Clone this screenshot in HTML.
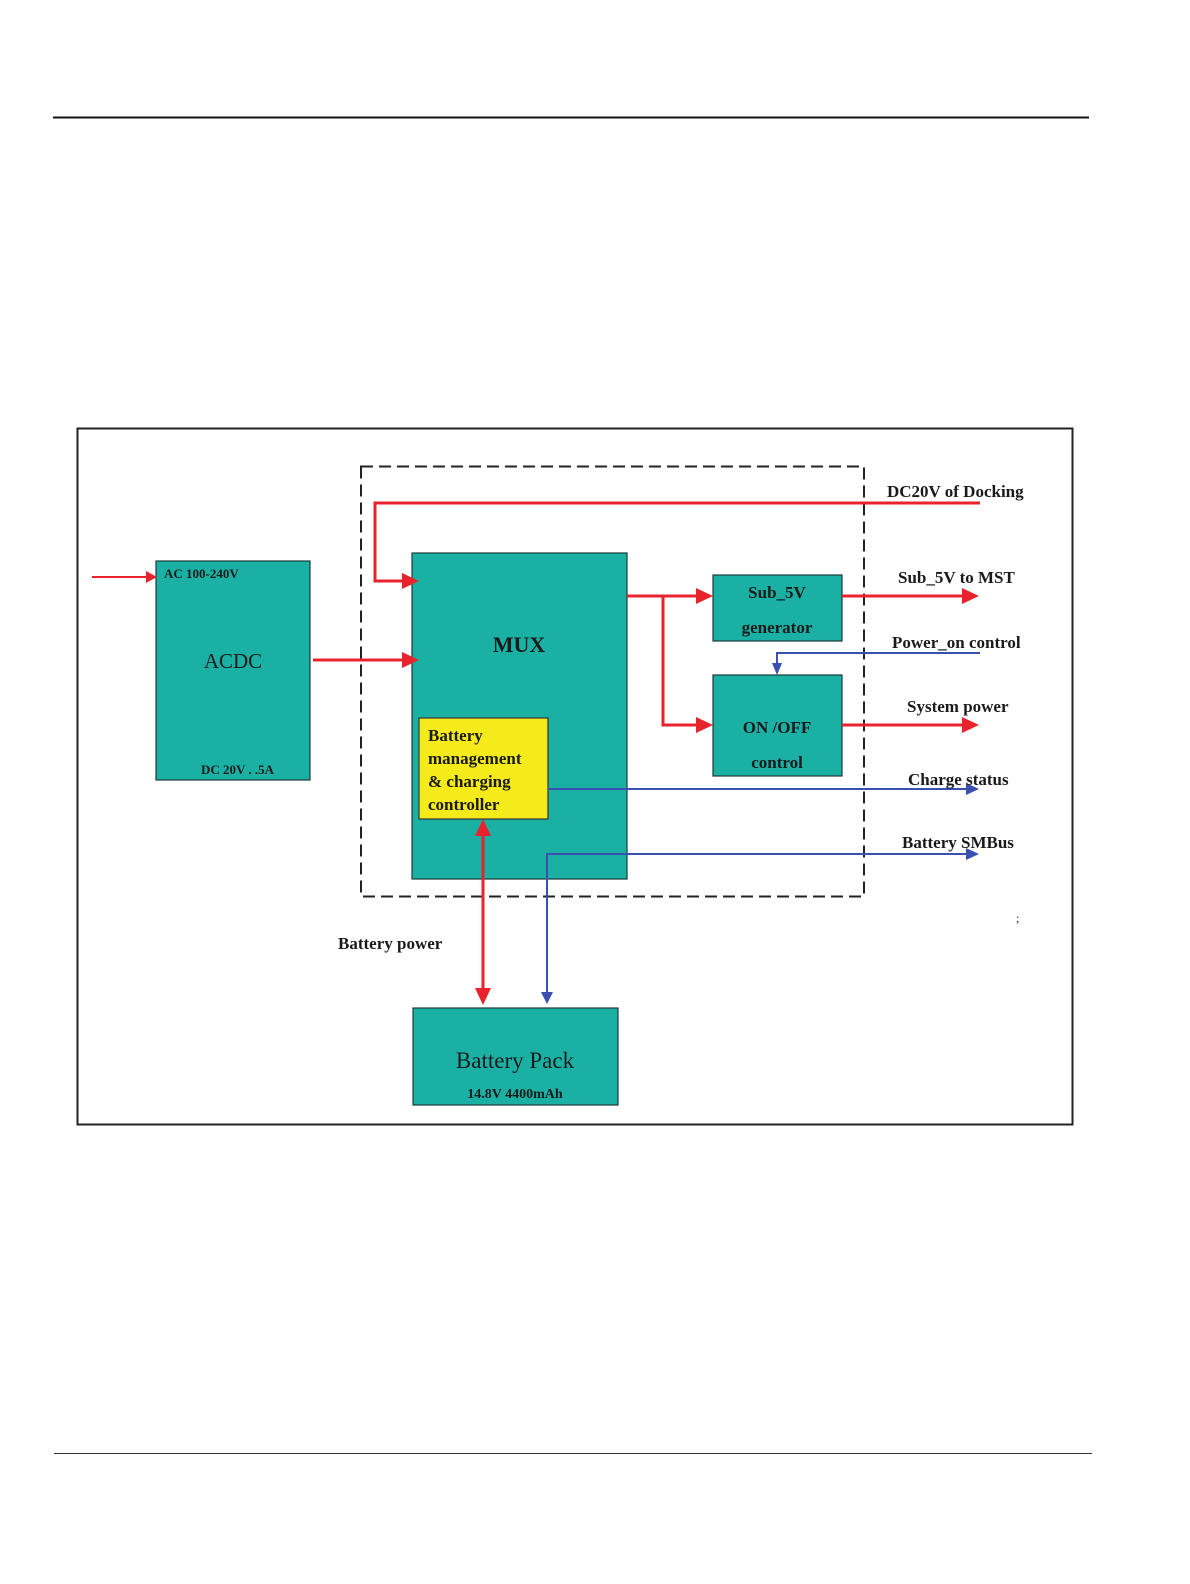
<!DOCTYPE html>
<html><head><meta charset="utf-8">
<style>
html,body{margin:0;padding:0;background:#fff;}
svg{display:block;}
text{font-family:"Liberation Serif",serif;fill:#1a1a1a;}
</style></head>
<body>
<svg width="1190" height="1584" viewBox="0 0 1190 1584" xmlns="http://www.w3.org/2000/svg">
<defs>
<marker id="ar" markerWidth="10" markerHeight="10" refX="9" refY="5" orient="auto" markerUnits="userSpaceOnUse" viewBox="0 0 10 10">
</marker>
</defs>
<line x1="53" y1="117.5" x2="1089" y2="117.5" stroke="#111" stroke-width="2"/>
<line x1="54" y1="1453.5" x2="1092" y2="1453.5" stroke="#333" stroke-width="1"/>
<rect x="77.5" y="428.5" width="995" height="696" fill="none" stroke="#222" stroke-width="2"/>
<rect x="361" y="466.5" width="503" height="430" fill="none" stroke="#222" stroke-width="2" stroke-dasharray="12,6"/>

<!-- boxes -->
<rect x="156" y="561" width="154" height="219" fill="#1bb0a4" stroke="#1d3a3a" stroke-width="1.2"/>
<rect x="412" y="553" width="215" height="326" fill="#1bb0a4" stroke="#1d3a3a" stroke-width="1.2"/>
<rect x="419" y="718" width="129" height="101" fill="#f5eb1a" stroke="#333" stroke-width="1.2"/>
<rect x="713" y="575" width="129" height="66" fill="#1bb0a4" stroke="#1d3a3a" stroke-width="1.2"/>
<rect x="713" y="675" width="129" height="101" fill="#1bb0a4" stroke="#1d3a3a" stroke-width="1.2"/>
<rect x="413" y="1008" width="205" height="97" fill="#1bb0a4" stroke="#1d3a3a" stroke-width="1.2"/>

<!-- red lines -->
<g stroke="#e8232d" stroke-width="3" fill="none">
<polyline points="980,503 375,503 375,581 404,581"/>
<line x1="92" y1="577" x2="146" y2="577" stroke-width="2"/>
<line x1="313" y1="660" x2="404" y2="660"/>
<line x1="627" y1="596" x2="700" y2="596"/>
<polyline points="663,596 663,725 700,725"/>
<line x1="842" y1="596" x2="966" y2="596"/>
<line x1="842" y1="725" x2="966" y2="725"/>
<line x1="483" y1="832" x2="483" y2="992"/>
</g>
<g fill="#e8232d">
<polygon points="146,571 157,577 146,583"/>
<polygon points="402,573 419,581 402,589"/>
<polygon points="402,652 419,660 402,668"/>
<polygon points="696,588 713,596 696,604"/>
<polygon points="696,717 713,725 696,733"/>
<polygon points="962,588 979,596 962,604"/>
<polygon points="962,717 979,725 962,733"/>
<polygon points="475,836 483,819 491,836"/>
<polygon points="475,988 483,1005 491,988"/>
</g>
<!-- blue lines -->
<g stroke="#3a4fb0" stroke-width="2" fill="none">
<polyline points="980,653 777,653 777,665"/>
<line x1="548" y1="789" x2="968" y2="789"/>
<polyline points="968,854 547,854 547,994"/>
</g>
<g fill="#3a4fb0">
<polygon points="772,663 777,675 782,663"/>
<polygon points="966,783 979,789 966,795"/>
<polygon points="966,848 979,854 966,860"/>
<polygon points="541,992 547,1004 553,992"/>
</g>

<!-- texts -->
<text x="164" y="578" font-size="13" font-weight="bold">AC 100-240V</text>
<text x="233" y="668" font-size="21" text-anchor="middle">ACDC</text>
<text x="201" y="774" font-size="13" font-weight="bold">DC 20V . .5A</text>
<text x="519" y="652" font-size="22" font-weight="bold" text-anchor="middle">MUX</text>
<g font-size="17" font-weight="bold">
<text x="428" y="741">Battery</text>
<text x="428" y="764">management</text>
<text x="428" y="787">&amp; charging</text>
<text x="428" y="810">controller</text>
</g>
<g font-size="17" font-weight="bold" text-anchor="middle">
<text x="777" y="598">Sub_5V</text>
<text x="777" y="633">generator</text>
<text x="777" y="733">ON /OFF</text>
<text x="777" y="768">control</text>
</g>
<g font-size="17" font-weight="bold">
<text x="887" y="497">DC20V of Docking</text>
<text x="898" y="583">Sub_5V to MST</text>
<text x="892" y="648">Power_on control</text>
<text x="907" y="712">System power</text>
<text x="908" y="785">Charge status</text>
<text x="902" y="848">Battery SMBus</text>
<text x="338" y="949">Battery power</text>
</g>
<text x="1016" y="922" font-size="12">;</text>
<text x="515" y="1068" font-size="23" text-anchor="middle">Battery Pack</text>
<text x="515" y="1098" font-size="14" font-weight="bold" text-anchor="middle">14.8V 4400mAh</text>
</svg>
</body></html>
